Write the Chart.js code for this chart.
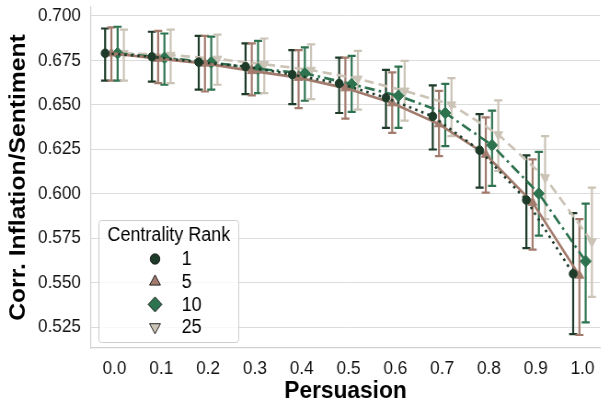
<!DOCTYPE html>
<html>
<head>
<meta charset="utf-8">
<script src="https://cdn.jsdelivr.net/npm/chart.js@4.4.1/dist/chart.umd.min.js"></script>
<style>
  html, body { margin: 0; padding: 0; background: #fff; overflow: hidden; }
  #wrap { width: 606px; height: 404px; position: relative; overflow: hidden; }
  /* figure was saved slightly narrower than drawn */
  #myChart { transform: scaleX(0.92); transform-origin: 0 0; }
</style>
</head>
<body>
<div id="wrap"><canvas id="myChart" width="659" height="404"></canvas></div>
<script>
// persuasion levels on the x axis
const categories = ['0.0', '0.1', '0.2', '0.3', '0.4', '0.5', '0.6', '0.7', '0.8', '0.9', '1.0'];
const yTicks = [0.525, 0.55, 0.575, 0.6, 0.625, 0.65, 0.675, 0.7];

// mean correlation per centrality rank, with CI bounds
const rank1Mean = [0.679, 0.677, 0.674, 0.6715, 0.667, 0.662, 0.654, 0.6435, 0.6245, 0.5965, 0.555];
const rank1Lo = [0.6636, 0.6631, 0.6585, 0.656, 0.6504, 0.6454, 0.637, 0.6249, 0.6035, 0.5694, 0.5211];
const rank1Hi = [0.6929, 0.6911, 0.6888, 0.6845, 0.6808, 0.6765, 0.6696, 0.6609, 0.6448, 0.6216, 0.5891];

const rank5Mean = [0.679, 0.676, 0.6733, 0.6691, 0.6653, 0.6594, 0.651, 0.6392, 0.6221, 0.5951, 0.5541];
const rank5Lo = [0.6636, 0.6622, 0.6575, 0.6553, 0.6482, 0.6423, 0.6342, 0.6212, 0.6007, 0.5686, 0.5206];
const rank5Hi = [0.6935, 0.6916, 0.6888, 0.6845, 0.6808, 0.6765, 0.6683, 0.6579, 0.643, 0.6193, 0.5858];

const rank10Mean = [0.679, 0.6764, 0.6739, 0.6702, 0.6677, 0.6616, 0.6551, 0.6454, 0.6273, 0.6001, 0.5621];
const rank10Lo = [0.6636, 0.6613, 0.6585, 0.6566, 0.6523, 0.646, 0.637, 0.6268, 0.6044, 0.5765, 0.5277];
const rank10Hi = [0.6939, 0.6901, 0.6883, 0.686, 0.6823, 0.6775, 0.6715, 0.6618, 0.6467, 0.6236, 0.5945];

const rank25Mean = [0.679, 0.678, 0.6758, 0.6728, 0.6696, 0.6646, 0.6579, 0.6501, 0.6333, 0.6091, 0.5731];
const rank25Lo = [0.6636, 0.6622, 0.6613, 0.6566, 0.6532, 0.6473, 0.6411, 0.6324, 0.6128, 0.5858, 0.542];
const rank25Hi = [0.6923, 0.6923, 0.6895, 0.6873, 0.684, 0.6803, 0.6747, 0.665, 0.6525, 0.6324, 0.6035];

const FONT = "'Liberation Sans', Arial, sans-serif";

function series(label, mean, lo, hi, color, shift, style, rot, radius, dash) {
    return {
        label: label,
        data: mean.map((v, i) => ({ x: i + shift, y: v })),
        lo: lo, hi: hi, shift: shift,
        borderColor: color,
        backgroundColor: color,
        borderWidth: 2.6,
        borderDash: dash,
        pointStyle: style,
        rotation: rot,
        pointRadius: radius,
        pointHoverRadius: radius,
        pointBackgroundColor: color,
        pointBorderColor: color,
        pointBorderWidth: 1,
        tension: 0
    };
}

const datasets = [
    series('1', rank1Mean, rank1Lo, rank1Hi, '#1d3b28', -0.2, 'circle', 0, 4.3, [2.6, 4.4]),
    series('5', rank5Mean, rank5Lo, rank5Hi, '#a27b6d', -0.067, 'triangle', 0, 5.5, []),
    series('10', rank10Mean, rank10Lo, rank10Hi, '#2e7350', 0.067, 'rectRot', 0, 6, [11, 4.5, 2.6, 4.5]),
    series('25', rank25Mean, rank25Lo, rank25Hi, '#cbc3b6', 0.2, 'triangle', 180, 5.5, [10, 5.5])
];

// vertical CI bars with caps
const errorBars = {
    id: 'errorBars',
    beforeDatasetsDraw(chart) {
        const ctx = chart.ctx;
        const xs = chart.scales.x, ys = chart.scales.y;
        ctx.save();
        chart.data.datasets.forEach(ds => {
            ctx.strokeStyle = ds.borderColor;
            ctx.lineWidth = 2.2;
            ctx.setLineDash([]);
            ds.lo.forEach((lo, i) => {
                const x = xs.getPixelForValue(i + ds.shift);
                const y1 = ys.getPixelForValue(lo);
                const y2 = ys.getPixelForValue(ds.hi[i]);
                ctx.beginPath();
                ctx.moveTo(x, y1); ctx.lineTo(x, y2);
                ctx.moveTo(x - 4.4, y1); ctx.lineTo(x + 4.4, y1);
                ctx.moveTo(x - 4.4, y2); ctx.lineTo(x + 4.4, y2);
                ctx.stroke();
            });
        });
        ctx.restore();
    }
};

// legend box in the lower left of the plot
const rankLegend = {
    id: 'rankLegend',
    afterDraw(chart) {
        const ctx = chart.ctx;
        const bx = 107.5, by = 220, bw = 152, bh = 122;
        ctx.save();
        ctx.fillStyle = 'rgba(255,255,255,0.8)';
        ctx.strokeStyle = '#cccccc';
        ctx.lineWidth = 1;
        ctx.setLineDash([]);
        ctx.beginPath();
        ctx.roundRect(bx, by + 0.5, bw, bh, 3);
        ctx.fill();
        ctx.stroke();
        ctx.fillStyle = '#000';
        ctx.font = '19.5px ' + FONT;
        ctx.textAlign = 'center';
        ctx.textBaseline = 'middle';
        ctx.fillText('Centrality Rank', bx + bw / 2, by + 16);
        chart.data.datasets.forEach((ds, k) => {
            const y = by + 39 + k * 22.7;
            ctx.fillStyle = ds.borderColor;
            ctx.strokeStyle = '#111';
            ctx.lineWidth = 0.9;
            Chart.helpers.drawPoint(ctx, {
                pointStyle: ds.pointStyle,
                rotation: ds.rotation,
                radius: ds.pointStyle === 'circle' ? 5.2 : (ds.pointStyle === 'rectRot' ? 7.5 : 6.8),
                borderWidth: 0.9
            }, bx + 61, y);
            ctx.fillStyle = '#000';
            ctx.textAlign = 'left';
            ctx.font = '19.5px ' + FONT;
            ctx.fillText(ds.label, bx + 90, y + 1);
        });
        ctx.restore();
    }
};

const ctx = document.getElementById('myChart').getContext('2d');
const myChart = new Chart(ctx, {
    type: 'line',
    data: { datasets: datasets },
    plugins: [errorBars, rankLegend],
    options: {
        responsive: false,
        animation: false,
        layout: { padding: { top: 5, right: 0, left: 0, bottom: 0 } },
        plugins: { legend: { display: false }, tooltip: { enabled: false } },
        scales: {
            x: {
                type: 'linear',
                min: -0.5,
                max: 10.37,
                afterBuildTicks: s => { s.ticks = categories.map((c, i) => ({ value: i })); },
                afterFit: s => { s.height = 56; s.paddingLeft = 0; s.paddingRight = 0; },
                ticks: {
                    callback: v => categories[v],
                    font: { size: 18.7, family: FONT },
                    color: '#111',
                    padding: 10,
                    maxRotation: 0,
                    autoSkip: false
                },
                grid: { display: false, drawTicks: false },
                border: { display: true, color: '#d0d0d0', width: 1.2 },
                title: {
                    display: true,
                    text: 'Persuasion',
                    font: { size: 24.7, weight: 'bold', family: FONT, lineHeight: 1.0 },
                    color: '#000',
                    padding: { top: 0, bottom: 0 }
                }
            },
            y: {
                min: 0.5133,
                max: 0.705,
                afterBuildTicks: s => { s.ticks = yTicks.map(v => ({ value: v })); },
                afterFit: s => { s.width = 99; s.paddingTop = 0; s.paddingBottom = 0; },
                ticks: {
                    callback: v => v.toFixed(3),
                    font: { size: 18.7, family: FONT },
                    color: '#111',
                    padding: 11
                },
                grid: { color: '#dcdcdc', lineWidth: 1, drawTicks: false },
                border: { display: true, color: '#d0d0d0', width: 1.2 },
                title: {
                    display: true,
                    text: 'Corr. Inflation/Sentiment',
                    font: { size: 24.7, weight: 'bold', family: FONT },
                    color: '#000',
                    padding: { top: 5, bottom: 0 }
                }
            }
        }
    }
});
</script>
</body>
</html>
